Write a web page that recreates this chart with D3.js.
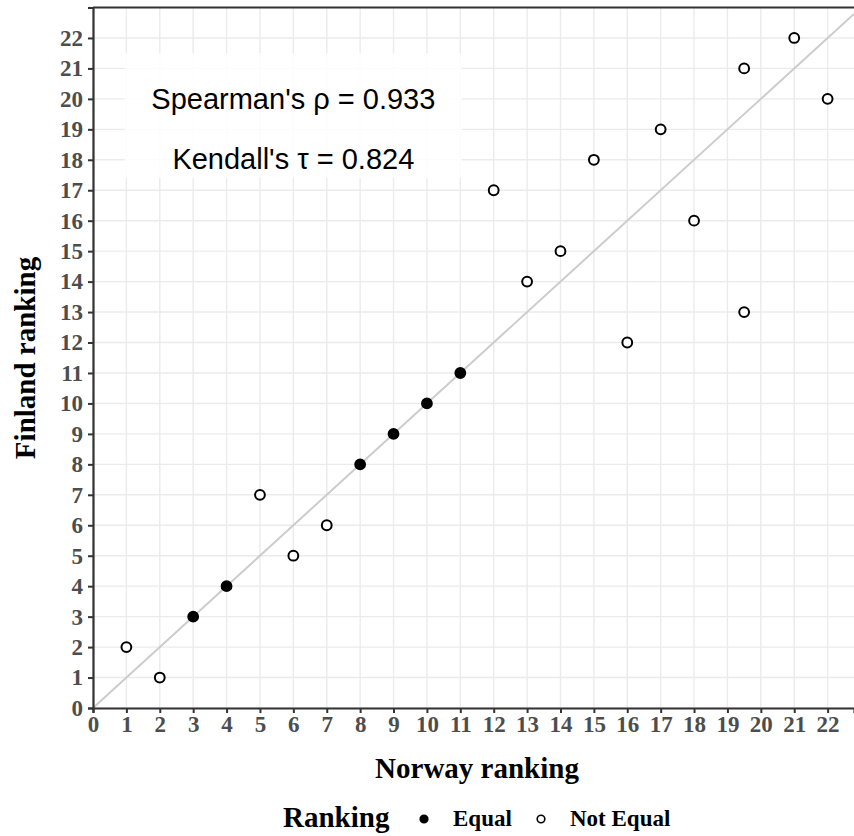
<!DOCTYPE html>
<html>
<head>
<meta charset="utf-8">
<style>
  body { margin: 0; background: #fff; }
  svg { display: block; }
</style>
</head>
<body>
<script src="https://d3js.org/d3.v7.min.js"></script>
<script>
// rankings: Norway (x) vs Finland (y)
const norway  = [1, 2, 3, 4, 5, 6, 7, 8, 9, 10, 11, 12, 13, 14, 15, 16, 17, 18, 19.5, 19.5, 21, 22];
const finland = [2, 1, 3, 4, 7, 5, 6, 8, 9, 10, 11, 17, 14, 15, 18, 12, 19, 16, 21, 13, 22, 20];
const ticks = d3.range(0, 23);
const statLines = ["Spearman's \u03c1 = 0.933", "Kendall's \u03c4 = 0.824"];
const legendKeys = ["Equal", "Not Equal"];

const W = 854, H = 836;
const x = d3.scaleLinear().domain([0, 22.79]).range([93, 854]);
const y = d3.scaleLinear().domain([0, 23]).range([708, 7.5]);

const svg = d3.select("body").append("svg")
  .attr("width", W).attr("height", H);

const serif = "'Liberation Serif', 'Times New Roman', serif";

// grid
const grid = svg.append("g");
grid.selectAll("line.v").data(ticks).join("line")
  .attr("x1", d => x(d)).attr("x2", d => x(d))
  .attr("y1", y.range()[0]).attr("y2", y.range()[1])
  .attr("stroke", "#ebebeb").attr("stroke-width", 1.4);
grid.selectAll("line.h").data(ticks).join("line")
  .attr("y1", d => y(d)).attr("y2", d => y(d))
  .attr("x1", x.range()[0]).attr("x2", x.range()[1])
  .attr("stroke", "#ebebeb").attr("stroke-width", 1.4);

// y = x reference
svg.append("line")
  .attr("x1", x(0)).attr("y1", y(0))
  .attr("x2", x(22.79)).attr("y2", y(22.79))
  .attr("stroke", "#cccccc").attr("stroke-width", 2);

// correlation box
svg.append("rect")
  .attr("x", x(0.95)).attr("y", y(21.5))
  .attr("width", x(11.05) - x(0.95)).attr("height", y(17.4) - y(21.5))
  .attr("fill", "#fff").attr("fill-opacity", 0.85);
svg.append("g").selectAll("text").data(statLines).join("text")
  .attr("x", x(6)).attr("y", (d, i) => y(20) + 10 + i * 60)
  .attr("text-anchor", "middle")
  .style("font-family", "'Liberation Sans', Arial, sans-serif")
  .style("font-size", "29px")
  .attr("fill", "#000")
  .text(d => d);

// points
const pts = norway.map((n, i) => ({n, f: finland[i], eq: n === finland[i]}));
svg.append("g").selectAll("circle").data(pts).join("circle")
  .attr("cx", d => x(d.n)).attr("cy", d => y(d.f))
  .attr("r", 4.9)
  .attr("fill", d => d.eq ? "#000" : "#fff")
  .attr("stroke", "#000").attr("stroke-width", 2);

// axes
const xAxis = svg.append("g").attr("transform", `translate(0,${y(0)})`)
  .call(d3.axisBottom(x).tickValues(ticks).tickSize(5).tickPadding(3));
const yAxis = svg.append("g").attr("transform", `translate(${x(0)},0)`)
  .call(d3.axisLeft(y).tickValues(ticks).tickSize(5).tickPadding(5));
[xAxis, yAxis].forEach(a => {
  a.attr("font-size", null).attr("font-family", null);
  a.select(".domain").attr("stroke", "#333").attr("stroke-width", 2.2);
  a.selectAll(".tick line").attr("stroke", "#333").attr("stroke-width", 2);
  a.selectAll(".tick text")
    .style("font-family", serif).style("font-weight", "bold")
    .style("font-size", "23px").attr("fill", "#4d4d4d");
});
// top border
svg.append("line")
  .attr("x1", x(0)).attr("x2", W).attr("y1", y(23)).attr("y2", y(23))
  .attr("stroke", "#333").attr("stroke-width", 2);

// axis titles
svg.append("text")
  .attr("x", 477).attr("y", 778)
  .attr("text-anchor", "middle")
  .style("font-family", serif).style("font-weight", "bold").style("font-size", "29px")
  .text("Norway ranking");
svg.append("text")
  .attr("transform", "translate(35,358) rotate(-90)")
  .attr("text-anchor", "middle")
  .style("font-family", serif).style("font-weight", "bold").style("font-size", "29px")
  .text("Finland ranking");

// legend
const lg = svg.append("g");
lg.append("text")
  .attr("x", 283).attr("y", 827)
  .style("font-family", serif).style("font-weight", "bold").style("font-size", "29px")
  .text("Ranking");
const keyX = [424, 541];
lg.selectAll("circle").data(legendKeys).join("circle")
  .attr("cx", (d, i) => keyX[i]).attr("cy", 819)
  .attr("r", 3.8)
  .attr("fill", (d, i) => i === 0 ? "#000" : "#fff")
  .attr("stroke", "#000").attr("stroke-width", 1.6);
lg.selectAll("text.k").data(legendKeys).join("text")
  .attr("class", "k")
  .attr("x", (d, i) => keyX[i] + 29).attr("y", 826)
  .style("font-family", serif).style("font-weight", "bold").style("font-size", "23px")
  .text(d => d);
</script>
</body>
</html>
